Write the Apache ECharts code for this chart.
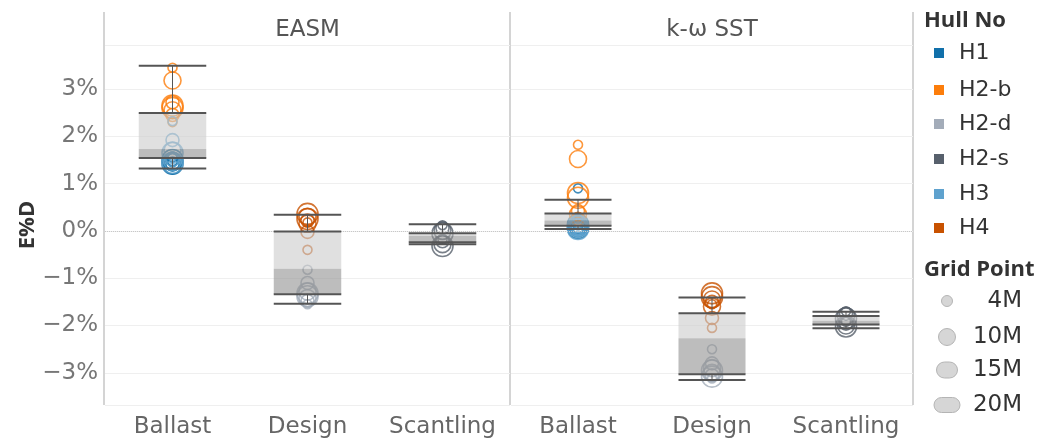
<!DOCTYPE html>
<html>
<head>
<meta charset="utf-8">
<script src="https://cdn.jsdelivr.net/npm/echarts@6/dist/echarts.min.js"></script>
<style>
  html, body { margin: 0; padding: 0; background: #fff; }
  #main { width: 1056px; height: 441px; }
</style>
</head>
<body>
<div id="main"></div>
<script>
// categories / labels
const panels = ['EASM', 'k-ω SST'];
const categories = ['Ballast', 'Design', 'Scantling'];
const hulls = ['H1', 'H2-b', 'H2-d', 'H2-s', 'H3', 'H4'];
const hullColors = ['#1170aa', '#fc7d0b', '#a3acb9', '#57606c', '#5fa2ce', '#c85200'];
const hullCategory = [0, 0, 1, 2, 0, 1];
const gridPoints = ['4M', '10M', '15M', '20M'];
const gridSizes = [9, 13, 17, 21];

// E%D values, one row per grid point (4M, 10M, 15M, 20M)
const easmH1 = [[1.55, 1.45], [1.52, 1.40], [1.48, 1.38], [1.50, 1.42]];
const easmH2b = [[3.45, 2.30], [2.72, 2.45], [3.18, 2.55], [2.65, 2.60]];
const easmH2d = [[-0.82, -1.55], [-1.10, -1.48], [-1.28, -1.42], [-1.32, -1.38]];
const easmH2s = [[0.12, -0.18], [0.06, -0.22], [0.00, -0.28], [-0.05, -0.32]];
const easmH3 = [[2.32, 1.58], [1.92, 1.50], [1.70, 1.46], [1.65, 1.44]];
const easmH4 = [[-0.40, 0.18], [-0.02, 0.22], [0.30, 0.15], [0.36, 0.25]];

const sstH1 = [[0.90, 0.12], [0.08, 0.18], [0.05, 0.10], [0.14, 0.06]];
const sstH2b = [[1.82, 0.30], [0.42, 0.25], [1.52, 0.35], [0.80, 0.70]];
const sstH2d = [[-2.50, -3.12], [-2.80, -3.05], [-2.90, -3.00], [-2.95, -3.08]];
const sstH2s = [[-1.70, -1.92], [-1.75, -1.96], [-1.80, -2.00], [-1.85, -2.02]];
const sstH3 = [[0.25, 0.02], [0.20, 0.05], [0.15, 0.08], [0.10, 0.04]];
const sstH4 = [[-2.05, -1.55], [-1.84, -1.50], [-1.45, -1.60], [-1.32, -1.40]];

// box plot stats per category: [lower whisker, Q1, median, Q3, upper whisker]
const easmBox = [
  [1.32, 1.54, 1.73, 2.49, 3.49],
  [-1.54, -1.34, -0.80, -0.015, 0.34],
  [-0.28, -0.24, -0.10, -0.05, 0.14]
];
const sstBox = [
  [0.04, 0.11, 0.22, 0.37, 0.66],
  [-3.15, -3.03, -2.27, -1.74, -1.41],
  [-2.06, -1.98, -1.90, -1.80, -1.71]
];

const yMin = -3.68, yMax = 3.93;

const panelHulls = [
  [easmH1, easmH2b, easmH2d, easmH2s, easmH3, easmH4],
  [sstH1, sstH2b, sstH2d, sstH2s, sstH3, sstH4]
];
const panelBoxes = [easmBox, sstBox];

const font = 'DejaVu Sans';
const boldFont = 'Open Sans';
const chart = echarts.init(document.getElementById('main'));

function fmtPct(v) {
  const r = Math.round(v);
  return (r < 0 ? '\u2212' : '') + Math.abs(r) + '%';
}

function renderBox(params, api) {
  const x = api.value(0);
  const lo = api.coord([x, api.value(1)]);
  const q1 = api.coord([x, api.value(2)]);
  const md = api.coord([x, api.value(3)]);
  const q3 = api.coord([x, api.value(4)]);
  const hi = api.coord([x, api.value(5)]);
  const w = api.size([1, 0])[0] * 0.5;
  const cx = lo[0];
  const l = cx - w / 2, r = cx + w / 2;
  const dark = '#555';
  const hline = (y) => ({ type: 'line', shape: { x1: l, y1: y, x2: r, y2: y }, style: { stroke: dark, lineWidth: 2 } });
  return {
    type: 'group',
    children: [
      { type: 'rect', shape: { x: l, y: q3[1], width: w, height: md[1] - q3[1] }, style: { fill: 'rgba(203,203,203,0.6)' } },
      { type: 'rect', shape: { x: l, y: md[1], width: w, height: q1[1] - md[1] }, style: { fill: 'rgba(145,145,145,0.6)' } },
      { type: 'line', shape: { x1: cx, y1: hi[1], x2: cx, y2: q3[1] }, style: { stroke: dark, lineWidth: 1 } },
      { type: 'line', shape: { x1: cx, y1: q1[1], x2: cx, y2: lo[1] }, style: { stroke: dark, lineWidth: 1 } },
      hline(hi[1]), hline(lo[1]), hline(q3[1]), hline(q1[1])
    ]
  };
}

const grids = [
  { left: 105, width: 405, top: 45, bottom: 36 },
  { left: 511, width: 402, top: 45, bottom: 36 }
];

const xAxes = panels.map((p, i) => ({
  type: 'category', gridIndex: i, data: categories,
  axisLine: { show: false }, axisTick: { show: false },
  axisLabel: { interval: 0, color: '#666', fontFamily: font, fontSize: 23, margin: 11 }
}));

const yAxes = panels.map((p, i) => ({
  type: 'value', gridIndex: i, min: yMin, max: yMax, splitNumber: 8,
  axisLine: { show: false }, axisTick: { show: false },
  splitLine: { lineStyle: { color: '#efefef', width: 1 } },
  axisLabel: {
    show: i === 0, showMinLabel: false, showMaxLabel: false,
    color: '#777', fontFamily: font, fontSize: 23, margin: 7, formatter: fmtPct
  },
  name: i === 0 ? 'E%D' : '', nameLocation: 'middle', nameGap: 60, nameRotate: 90,
  nameTextStyle: { color: '#333', fontFamily: boldFont, fontSize: 22, fontWeight: 'bold' }
}));

const series = [];
panels.forEach((p, pi) => {
  hulls.forEach((h, hi) => {
    const data = [];
    panelHulls[pi][hi].forEach((vals, gi) => {
      vals.forEach(v => data.push([hullCategory[hi], v, gi]));
    });
    data.sort((a, b) => b[2] - a[2]);
    series.push({
      type: 'scatter', name: h, xAxisIndex: pi, yAxisIndex: pi, z: 2,
      data: data,
      symbol: 'circle',
      symbolSize: (v) => gridSizes[v[2]],
      itemStyle: { color: 'rgba(0,0,0,0)', borderColor: hullColors[hi], borderWidth: 1.6 },
      emphasis: { disabled: true }
    });
  });
  series.push({
    type: 'custom', name: 'box' + pi, xAxisIndex: pi, yAxisIndex: pi, z: 5,
    renderItem: renderBox,
    data: panelBoxes[pi].map((b, ci) => [ci].concat(b)),
    encode: { x: 0, y: [1, 2, 3, 4, 5] },
    silent: true,
    markLine: {
      silent: true, symbol: 'none', label: { show: false },
      lineStyle: { color: '#c8c8c8', type: 'dotted', width: 1 },
      data: [{ yAxis: 0 }]
    }
  });
});

// panel frame lines, headers and legend
const graphic = [];
[104, 510, 913].forEach(x => {
  graphic.push({ type: 'line', shape: { x1: x, y1: 12, x2: x, y2: 405 }, style: { stroke: '#d4d4d4', lineWidth: 2 }, silent: true });
});
panels.forEach((p, i) => {
  const g = grids[i];
  graphic.push({ type: 'text', x: g.left + g.width / 2, y: 30, style: { text: p, fill: '#555', font: '23px "' + font + '"', align: 'center', verticalAlign: 'middle' } });
});
graphic.push({ type: 'text', x: 924, y: 21, style: { text: 'Hull No', fill: '#333', font: 'bold 22px "' + boldFont + '"', align: 'left', verticalAlign: 'middle' } });
const hullY = [53, 90, 124, 159, 194, 228];
hulls.forEach((h, i) => {
  graphic.push({ type: 'rect', shape: { x: 934, y: hullY[i] - 5, width: 10, height: 10 }, style: { fill: hullColors[i] } });
  graphic.push({ type: 'text', x: 959, y: hullY[i], style: { text: h, fill: '#333', font: '22px "' + font + '"', align: 'left', verticalAlign: 'middle' } });
});
graphic.push({ type: 'text', x: 924, y: 270, style: { text: 'Grid Point', fill: '#333', font: 'bold 22px "' + boldFont + '"', align: 'left', verticalAlign: 'middle' } });
const sizeGlyph = [[11, 11], [17, 17], [21, 16], [26, 15]];
const sizeY = [301, 337, 370, 405];
gridPoints.forEach((gp, i) => {
  const [w, h] = sizeGlyph[i];
  graphic.push({ type: 'rect', shape: { x: 947 - w / 2, y: sizeY[i] - h / 2, width: w, height: h, r: h / 2 }, style: { fill: '#d6d6d6', stroke: '#b4b4b4', lineWidth: 1 } });
  graphic.push({ type: 'text', x: 1022, y: sizeY[i], style: { text: gp, fill: '#333', font: '23px "' + font + '"', align: 'right', verticalAlign: 'middle' } });
});

chart.setOption({
  animation: false,
  textStyle: { fontFamily: font },
  grid: grids,
  xAxis: xAxes,
  yAxis: yAxes,
  series: series,
  graphic: graphic
});
</script>
</body>
</html>
